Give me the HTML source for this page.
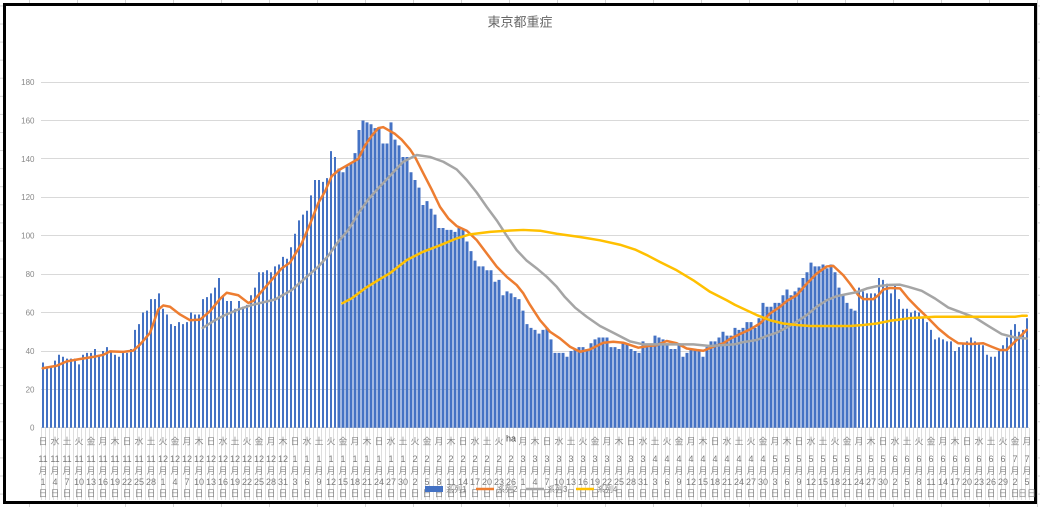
<!DOCTYPE html>
<html><head><meta charset="utf-8"><style>
html,body{margin:0;padding:0;background:#fff;}
svg{display:block;}
text{font-family:"Liberation Sans","Noto Sans CJK JP",sans-serif;}
</style></head><body>
<svg width="1040" height="507" viewBox="0 0 1040 507" xmlns="http://www.w3.org/2000/svg">
<defs>
<pattern id="cols" x="29" y="0" width="48" height="507" patternUnits="userSpaceOnUse"><rect width="1" height="507" fill="#d4d4d4"/></pattern>
<pattern id="rows" x="0" y="23.5" width="1040" height="18.08" patternUnits="userSpaceOnUse"><rect width="1040" height="1" fill="#d4d4d4"/></pattern>
<pattern id="cat" x="41" y="428" width="4" height="72" patternUnits="userSpaceOnUse"><rect width="1" height="72" fill="#dedede"/></pattern>
</defs>
<rect width="1040" height="507" fill="#fff"/>
<rect width="1040" height="507" fill="url(#cols)"/>
<rect width="1040" height="507" fill="url(#rows)"/>
<rect x="4.5" y="4.5" width="1031" height="498" fill="#fff" stroke="#000" stroke-width="3"/>

<text x="520" y="26.5" font-size="13" fill="#666" text-anchor="middle">東京都重症</text>

<g stroke="#d9d9d9" stroke-width="1">
<line x1="41" y1="82.5" x2="1029" y2="82.5"/>
<line x1="41" y1="120.5" x2="1029" y2="120.5"/>
<line x1="41" y1="158.5" x2="1029" y2="158.5"/>
<line x1="41" y1="197.5" x2="1029" y2="197.5"/>
<line x1="41" y1="235.5" x2="1029" y2="235.5"/>
<line x1="41" y1="274.5" x2="1029" y2="274.5"/>
<line x1="41" y1="312.5" x2="1029" y2="312.5"/>
<line x1="41" y1="351.5" x2="1029" y2="351.5"/>
<line x1="41" y1="389.5" x2="1029" y2="389.5"/>
<line x1="41" y1="427.5" x2="1029" y2="427.5"/>
</g>

<g font-size="8" fill="#888" text-anchor="end">
<text x="34.5" y="430.7">0</text>
<text x="34.5" y="392.3">20</text>
<text x="34.5" y="353.9">40</text>
<text x="34.5" y="315.4">60</text>
<text x="34.5" y="277">80</text>
<text x="34.5" y="238.6">100</text>
<text x="34.5" y="200.2">120</text>
<text x="34.5" y="161.8">140</text>
<text x="34.5" y="123.3">160</text>
<text x="34.5" y="84.9">180</text>
</g>

<rect x="41" y="428" width="989" height="72" fill="url(#cat)"/>

<g transform="translate(41,427.8) scale(4,-1.921)" fill="#4472C4">
<path d="M.25 0v34h.5V0zm1 0v32h.5V0zm1 0v32h.5V0zm1 0v35h.5V0zm1 0v38h.5V0zm1 0v37h.5V0zm1 0v36h.5V0zm1 0v36h.5V0zm1 0v36h.5V0zm1 0v33h.5V0zm1 0v38h.5V0zm1 0v39h.5V0zm1 0v39h.5V0zm1 0v41h.5V0zm1 0v38h.5V0zm1 0v40h.5V0zm1 0v42h.5V0zm1 0v40h.5V0zm1 0v38h.5V0zm1 0v37h.5V0zm1 0v39h.5V0zm1 0v39h.5V0zm1 0v41h.5V0zm1 0v51h.5V0zm1 0v54h.5V0zm1 0v60h.5V0zm1 0v61h.5V0zm1 0v67h.5V0zm1 0v67h.5V0zm1 0v70h.5V0zm1 0v62h.5V0zm1 0v59h.5V0zm1 0v54h.5V0zm1 0v53h.5V0zm1 0v55h.5V0zm1 0v54h.5V0zm1 0v55h.5V0zm1 0v60h.5V0zm1 0v59h.5V0zm1 0v59h.5V0zm1 0v67h.5V0zm1 0v68h.5V0zm1 0v70h.5V0zm1 0v73h.5V0zm1 0v78h.5V0zm1 0v69h.5V0zm1 0v66h.5V0zm1 0v66h.5V0zm1 0v62h.5V0zm1 0v66h.5V0zm1 0v63h.5V0zm1 0v64h.5V0zm1 0v69h.5V0zm1 0v73h.5V0zm1 0v81h.5V0zm1 0v81h.5V0zm1 0v82h.5V0zm1 0v81h.5V0zm1 0v84h.5V0zm1 0v85h.5V0zm1 0v89h.5V0zm1 0v88h.5V0zm1 0v94h.5V0zm1 0v101h.5V0zm1 0v108h.5V0zm1 0v111h.5V0zm1 0v113h.5V0zm1 0v121h.5V0zm1 0v129h.5V0zm1 0v129h.5V0zm1 0v128h.5V0zm1 0v130h.5V0zm1 0v144h.5V0zm1 0v141h.5V0z"/>
<path d="M74.125 0v135h.75V0zm1 0v133h.75V0zm1 0v136h.75V0zm1 0v138h.75V0zm1 0v143h.75V0zm1 0v155h.75V0zm1 0v160h.75V0zm1 0v159h.75V0zm1 0v158h.75V0zm1 0v156h.75V0zm1 0v156h.75V0zm1 0v148h.75V0zm1 0v148h.75V0zm1 0v159h.75V0zm1 0v150h.75V0zm1 0v147h.75V0zm1 0v141h.75V0zm1 0v141h.75V0zm1 0v133h.75V0zm1 0v129h.75V0zm1 0v125h.75V0zm1 0v116h.75V0zm1 0v118h.75V0zm1 0v114h.75V0zm1 0v111h.75V0zm1 0v104h.75V0zm1 0v104h.75V0zm1 0v103h.75V0zm1 0v103h.75V0zm1 0v102h.75V0zm1 0v104h.75V0zm1 0v103h.75V0zm1 0v97h.75V0zm1 0v92h.75V0zm1 0v87h.75V0zm1 0v84h.75V0zm1 0v84h.75V0zm1 0v82h.75V0zm1 0v82h.75V0zm1 0v76h.75V0zm1 0v77h.75V0zm1 0v69h.75V0zm1 0v71h.75V0zm1 0v70h.75V0zm1 0v68h.75V0zm1 0v67h.75V0zm1 0v61h.75V0zm1 0v54h.75V0zm1 0v52h.75V0zm1 0v51h.75V0zm1 0v49h.75V0zm1 0v51h.75V0zm1 0v52h.75V0zm1 0v46h.75V0zm1 0v39h.75V0zm1 0v39h.75V0zm1 0v39h.75V0zm1 0v37h.75V0zm1 0v40h.75V0zm1 0v41h.75V0zm1 0v42h.75V0zm1 0v42h.75V0zm1 0v41h.75V0zm1 0v44h.75V0zm1 0v46h.75V0zm1 0v47h.75V0zm1 0v47h.75V0zm1 0v47h.75V0zm1 0v42h.75V0zm1 0v42h.75V0zm1 0v41h.75V0zm1 0v44h.75V0zm1 0v44h.75V0zm1 0v41h.75V0zm1 0v40h.75V0zm1 0v39h.75V0zm1 0v45h.75V0zm1 0v43h.75V0zm1 0v43h.75V0zm1 0v48h.75V0zm1 0v47h.75V0zm1 0v46h.75V0zm1 0v44h.75V0zm1 0v41h.75V0zm1 0v41h.75V0zm1 0v44h.75V0zm1 0v37h.75V0zm1 0v39h.75V0zm1 0v41h.75V0zm1 0v41h.75V0zm1 0v40h.75V0zm1 0v37h.75V0zm1 0v42h.75V0zm1 0v45h.75V0zm1 0v45h.75V0zm1 0v47h.75V0zm1 0v50h.75V0zm1 0v48h.75V0zm1 0v48h.75V0zm1 0v52h.75V0zm1 0v51h.75V0zm1 0v52h.75V0zm1 0v55h.75V0zm1 0v55h.75V0zm1 0v52h.75V0zm1 0v57h.75V0zm1 0v65h.75V0zm1 0v63h.75V0zm1 0v63h.75V0zm1 0v65h.75V0zm1 0v65h.75V0zm1 0v69h.75V0zm1 0v72h.75V0zm1 0v69h.75V0zm1 0v71h.75V0zm1 0v73h.75V0zm1 0v78h.75V0zm1 0v81h.75V0zm1 0v86h.75V0zm1 0v84h.75V0zm1 0v84h.75V0zm1 0v85h.75V0zm1 0v83h.75V0zm1 0v85h.75V0zm1 0v81h.75V0zm1 0v73h.75V0zm1 0v69h.75V0zm1 0v65h.75V0zm1 0v62h.75V0zm1 0v61h.75V0z"/>
<path d="M204.25 0v73h.5V0zm1 0v71h.5V0zm1 0v70h.5V0zm1 0v70h.5V0zm1 0v70h.5V0zm1 0v78h.5V0zm1 0v77h.5V0zm1 0v75h.5V0zm1 0v70h.5V0zm1 0v75h.5V0zm1 0v67h.5V0zm1 0v62h.5V0zm1 0v62h.5V0zm1 0v60h.5V0zm1 0v61h.5V0zm1 0v60h.5V0zm1 0v57h.5V0zm1 0v55h.5V0zm1 0v51h.5V0zm1 0v46h.5V0zm1 0v47h.5V0zm1 0v46h.5V0zm1 0v45h.5V0zm1 0v45h.5V0zm1 0v40h.5V0zm1 0v42h.5V0zm1 0v44h.5V0zm1 0v45h.5V0zm1 0v47h.5V0zm1 0v45h.5V0zm1 0v44h.5V0zm1 0v43h.5V0zm1 0v38h.5V0zm1 0v37h.5V0zm1 0v37h.5V0zm1 0v40h.5V0zm1 0v43h.5V0zm1 0v47h.5V0zm1 0v51h.5V0zm1 0v54h.5V0zm1 0v50h.5V0zm1 0v51h.5V0zm1 0v57h.5V0z"/>
</g>

<g transform="translate(0,427.8) scale(1,-1.921)" fill="none" stroke-linejoin="round" stroke-linecap="round">
<polyline vector-effect="non-scaling-stroke" stroke="#ED7D31" stroke-width="2.5" points="42.7,31 56.7,32.3 66.7,34.6 80,35.8 93.3,36.9 103.3,38 110,39.8 123.3,39.5 133.3,40.2 140,43.3 150,49.4 158.3,61.6 163.3,63.7 170,63 180,59 190,56 200,56.3 210,60.7 220,67.1 226.7,70.3 238.3,69 248.3,65 253.3,66 265,73 281.7,83 290,86 301.7,96 310,106 318.3,117 325,123 331.7,131 338.3,134 345,136 351.7,138 358.3,140 365,147 371.7,152 378.3,156 383.3,156.5 388.3,155 395,153 401.7,150 410,145 415,141 423.3,132.5 431.7,124 440,115 448.3,109 456.7,105 466.7,102.6 476.7,97.7 486.7,90.8 496.7,83.9 506.7,78.6 516.7,74.3 523.3,70 530,64 540,56 550,50 560,46.5 570,42.2 580,39.6 590,40.8 603.3,44.3 613.3,44.8 623.3,44.3 638.3,41.7 648.3,42.6 656.7,43 666.7,45.2 676.7,44 686.7,41.3 696.7,40.5 703.3,40.1 713.3,42.2 723.3,44 730,46.3 740,48.8 750,51.2 760,54.3 770,59.5 780,63 786.7,66 796.7,69 806.7,75 816.7,80.3 826.7,84 833.3,84.3 843.3,79.4 850,75 858.3,69 863.3,67 873.3,67 878.3,69 883.3,72 890,72.8 900,72.6 908.3,67.3 918.3,62 928.3,57 938.3,51.7 948.3,47.4 958.3,44 971.7,43.6 983.3,44 991.7,42.2 1000,40.5 1006.7,40.5 1013.3,44 1020,47.4 1026.7,51"/>
<polyline vector-effect="non-scaling-stroke" stroke="#A5A5A5" stroke-width="2.5" points="202.7,52 215,56 225,58.7 238.3,61.6 251.7,63.9 275,66.8 291.7,71.7 305,77.8 318.3,83.9 328.3,89.6 338.3,96.9 348.3,103 358.3,111.6 368.3,118.9 378.3,124.7 388.3,130.2 395,134 403.3,138.5 416.7,142 430,141 443.3,138.5 456.7,134.5 466.7,129 476.7,122.5 486.7,115 496.7,108 506.7,100 516.7,92.5 526.7,87 536.7,83 546.7,78.6 556.7,73.4 565,68 575,62.6 586.7,57.8 600,53 613.3,49.5 630,45 643.3,43.4 660,43.4 693.3,43.4 710,42.6 735,43.5 743.3,44.6 756.7,45.7 766.7,47.8 776.7,49.5 786.7,52.2 796.7,55.2 806.7,58.7 816.7,63 826.7,66.4 836.7,68.5 846.7,69.6 856.7,70.6 866.7,72.5 876.7,73.7 890,74.4 900,74.5 908.3,73.4 921.7,71.3 935,67.3 948.3,62.6 961.7,60 975,57.4 988.3,53 1001.7,48.8 1015,47 1026.7,46.5"/>
<polyline vector-effect="non-scaling-stroke" stroke="#FFC000" stroke-width="2.5" points="342.3,64.8 351.7,67.4 365,72.6 378.3,76.9 390,80.5 406.7,87.3 423.3,91.7 440,95 456.7,98.6 470,100.7 490,102 506.7,102.6 523.3,103 540,102.6 556.7,101 580,99.3 600,97.6 620,95.3 635,92.8 648,89.6 660,86.3 676.7,82 693.3,76.8 710,70.8 726.7,66.4 735,64 743.3,62 756.7,58.7 770,56 783.3,54.3 796.7,53.5 810,53 830,53 850,53 863.3,53.5 876.7,54.3 890,55.7 900,56.4 908.3,57 921.7,57.4 935,57.8 1015,57.8 1021.7,58.3 1026.7,58.3"/>
</g>

<g font-size="9" fill="#8a8a8a" text-anchor="middle">
<text y="444.4" x="43 55 67 79 91 103 115 127 139 151 163 175 187 199 211 223 235 247 259 271 283 295 307 319 331 343 355 367 379 391 403 415 427 439 451 463 475 487 499 511 523 535 547 559 571 583 595 607 619 631 643 655 667 679 691 703 715 727 739 751 763 775 787 799 811 823 835 847 859 871 883 895 907 919 931 943 955 967 979 991 1003 1015 1027">日水土火金月木日水土火金月木日水土火金月木日水土火金月木日水土火金月木日水土火　月木日水土火金月木日水土火金月木日水土火金月木日水土火金月木日水土火金月木日水土火金月</text>
<text y="473.9" x="43 55 67 79 91 103 115 127 139 151 163 175 187 199 211 223 235 247 259 271 283 295 307 319 331 343 355 367 379 391 403 415 427 439 451 463 475 487 499 511 523 535 547 559 571 583 595 607 619 631 643 655 667 679 691 703 715 727 739 751 763 775 787 799 811 823 835 847 859 871 883 895 907 919 931 943 955 967 979 991 1003 1015 1027">月月月月月月月月月月月月月月月月月月月月月月月月月月月月月月月月月月月月月月月月月月月月月月月月月月月月月月月月月月月月月月月月月月月月月月月月月月月月月月月月月月月</text>
<text y="496.4" x="43 55 67 79 91 103 115 127 139 151 163 175 187 199 211 223 235 247 259 271 283 295 307 319 331 343 355 367 379 391 403 415 427 439 451 463 475 487 499 511 523 535 547 559 571 583 595 607 619 631 643 655 667 679 691 703 715 727 739 751 763 775 787 799 811 823 835 847 859 871 883 895 907 919 931 943 955 967 979 991 1003 1015 1027">日日日日日日日日日日日日日日日日日日日日日日日日日日日日日日日日日日日日日日日日日日日日日日日日日日日日日日日日日日日日日日日日日日日日日日日日日日日日日日日日日日日日</text>
</g>
<text x="511" y="441.5" font-size="9" fill="#404040" text-anchor="middle">ha</text>

<g font-size="9" fill="#7a7a7a" text-anchor="middle">
<text x="43" y="462.2">11</text><text x="55" y="462.2">11</text><text x="67" y="462.2">11</text><text x="79" y="462.2">11</text><text x="91" y="462.2">11</text><text x="103" y="462.2">11</text><text x="115" y="462.2">11</text><text x="127" y="462.2">11</text><text x="139" y="462.2">11</text><text x="151" y="462.2">11</text>
<text x="163" y="462.2">12</text><text x="175" y="462.2">12</text><text x="187" y="462.2">12</text><text x="199" y="462.2">12</text><text x="211" y="462.2">12</text><text x="223" y="462.2">12</text><text x="235" y="462.2">12</text><text x="247" y="462.2">12</text><text x="259" y="462.2">12</text><text x="271" y="462.2">12</text><text x="283" y="462.2">12</text>
<text x="295" y="462.2">1</text><text x="307" y="462.2">1</text><text x="319" y="462.2">1</text><text x="331" y="462.2">1</text><text x="343" y="462.2">1</text><text x="355" y="462.2">1</text><text x="367" y="462.2">1</text><text x="379" y="462.2">1</text><text x="391" y="462.2">1</text><text x="403" y="462.2">1</text>
<text x="415" y="462.2">2</text><text x="427" y="462.2">2</text><text x="439" y="462.2">2</text><text x="451" y="462.2">2</text><text x="463" y="462.2">2</text><text x="475" y="462.2">2</text><text x="487" y="462.2">2</text><text x="499" y="462.2">2</text><text x="511" y="462.2">2</text>
<text x="523" y="462.2">3</text><text x="535" y="462.2">3</text><text x="547" y="462.2">3</text><text x="559" y="462.2">3</text><text x="571" y="462.2">3</text><text x="583" y="462.2">3</text><text x="595" y="462.2">3</text><text x="607" y="462.2">3</text><text x="619" y="462.2">3</text><text x="631" y="462.2">3</text><text x="643" y="462.2">3</text>
<text x="655" y="462.2">4</text><text x="667" y="462.2">4</text><text x="679" y="462.2">4</text><text x="691" y="462.2">4</text><text x="703" y="462.2">4</text><text x="715" y="462.2">4</text><text x="727" y="462.2">4</text><text x="739" y="462.2">4</text><text x="751" y="462.2">4</text><text x="763" y="462.2">4</text>
<text x="775" y="462.2">5</text><text x="787" y="462.2">5</text><text x="799" y="462.2">5</text><text x="811" y="462.2">5</text><text x="823" y="462.2">5</text><text x="835" y="462.2">5</text><text x="847" y="462.2">5</text><text x="859" y="462.2">5</text><text x="871" y="462.2">5</text><text x="883" y="462.2">5</text>
<text x="895" y="462.2">6</text><text x="907" y="462.2">6</text><text x="919" y="462.2">6</text><text x="931" y="462.2">6</text><text x="943" y="462.2">6</text><text x="955" y="462.2">6</text><text x="967" y="462.2">6</text><text x="979" y="462.2">6</text><text x="991" y="462.2">6</text><text x="1003" y="462.2">6</text>
<text x="1015" y="462.2">7</text><text x="1027" y="462.2">7</text>

<text x="43" y="485.2">1</text><text x="55" y="485.2">4</text><text x="67" y="485.2">7</text><text x="79" y="485.2">10</text><text x="91" y="485.2">13</text><text x="103" y="485.2">16</text><text x="115" y="485.2">19</text><text x="127" y="485.2">22</text><text x="139" y="485.2">25</text><text x="151" y="485.2">28</text>
<text x="163" y="485.2">1</text><text x="175" y="485.2">4</text><text x="187" y="485.2">7</text><text x="199" y="485.2">10</text><text x="211" y="485.2">13</text><text x="223" y="485.2">16</text><text x="235" y="485.2">19</text><text x="247" y="485.2">22</text><text x="259" y="485.2">25</text><text x="271" y="485.2">28</text><text x="283" y="485.2">31</text>
<text x="295" y="485.2">3</text><text x="307" y="485.2">6</text><text x="319" y="485.2">9</text><text x="331" y="485.2">12</text><text x="343" y="485.2">15</text><text x="355" y="485.2">18</text><text x="367" y="485.2">21</text><text x="379" y="485.2">24</text><text x="391" y="485.2">27</text><text x="403" y="485.2">30</text>
<text x="415" y="485.2">2</text><text x="427" y="485.2">5</text><text x="439" y="485.2">8</text><text x="451" y="485.2">11</text><text x="463" y="485.2">14</text><text x="475" y="485.2">17</text><text x="487" y="485.2">20</text><text x="499" y="485.2">23</text><text x="511" y="485.2">26</text>
<text x="523" y="485.2">1</text><text x="535" y="485.2">4</text><text x="547" y="485.2">7</text><text x="559" y="485.2">10</text><text x="571" y="485.2">13</text><text x="583" y="485.2">16</text><text x="595" y="485.2">19</text><text x="607" y="485.2">22</text><text x="619" y="485.2">25</text><text x="631" y="485.2">28</text><text x="643" y="485.2">31</text>
<text x="655" y="485.2">3</text><text x="667" y="485.2">6</text><text x="679" y="485.2">9</text><text x="691" y="485.2">12</text><text x="703" y="485.2">15</text><text x="715" y="485.2">18</text><text x="727" y="485.2">21</text><text x="739" y="485.2">24</text><text x="751" y="485.2">27</text><text x="763" y="485.2">30</text>
<text x="775" y="485.2">3</text><text x="787" y="485.2">6</text><text x="799" y="485.2">9</text><text x="811" y="485.2">12</text><text x="823" y="485.2">15</text><text x="835" y="485.2">18</text><text x="847" y="485.2">21</text><text x="859" y="485.2">24</text><text x="871" y="485.2">27</text><text x="883" y="485.2">30</text>
<text x="895" y="485.2">2</text><text x="907" y="485.2">5</text><text x="919" y="485.2">8</text><text x="931" y="485.2">11</text><text x="943" y="485.2">14</text><text x="955" y="485.2">17</text><text x="967" y="485.2">20</text><text x="979" y="485.2">23</text><text x="991" y="485.2">26</text><text x="1003" y="485.2">29</text>
<text x="1015" y="485.2">2</text><text x="1027" y="485.2">5</text>
</g>

<g font-size="8" fill="#808080">
<rect x="425" y="486" width="18" height="6" fill="#4472C4"/>
<text x="446" y="492">系列1</text>
<line x1="476" y1="489" x2="494" y2="489" stroke="#ED7D31" stroke-width="2.5"/>
<text x="497" y="492">系列2</text>
<line x1="526" y1="489" x2="544" y2="489" stroke="#A5A5A5" stroke-width="2.5"/>
<text x="547" y="492">系列3</text>
<line x1="576" y1="489" x2="594" y2="489" stroke="#FFC000" stroke-width="2.5"/>
<text x="597" y="492">系列4</text>
</g>
</svg>
</body></html>
